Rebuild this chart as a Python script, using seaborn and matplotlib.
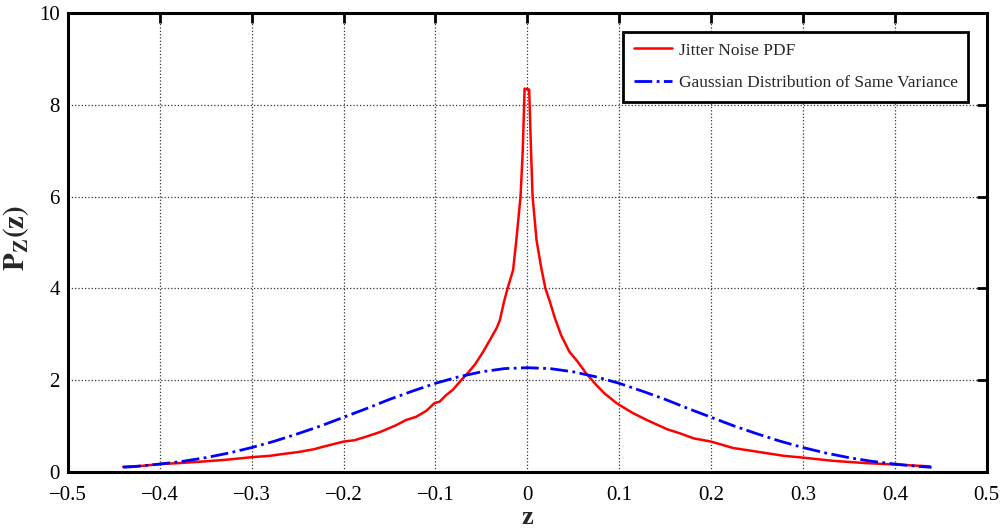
import matplotlib
matplotlib.use('Agg')
import matplotlib.pyplot as plt
import seaborn as sns
import numpy as np

# Jitter noise PDF
z_jitter = [-0.440, -0.420, -0.400, -0.380, -0.357, -0.330, -0.300, -0.280, -0.266,
            -0.250, -0.233, -0.220, -0.200, -0.188, -0.175, -0.160, -0.1425, -0.132,
            -0.121, -0.110, -0.101, -0.0955, -0.088, -0.081, -0.072, -0.0667, -0.057,
            -0.048, -0.040, -0.0335, -0.030, -0.0255, -0.0215, -0.0155, -0.012, -0.0074,
            -0.005, -0.003, 0.002, 0.004, 0.0057, 0.010, 0.0149, 0.0196, 0.0245, 0.030,
            0.0367, 0.0457, 0.0548, 0.0639, 0.0747, 0.084, 0.097, 0.100, 0.115, 0.130,
            0.152, 0.166, 0.181, 0.200, 0.224, 0.250, 0.279, 0.300, 0.333, 0.369, 0.400,
            0.438]
p_jitter = [0.11, 0.13, 0.17, 0.19, 0.22, 0.26, 0.32, 0.35, 0.39,
            0.43, 0.49, 0.56, 0.66, 0.69, 0.77, 0.87, 1.02, 1.13,
            1.20, 1.33, 1.50, 1.53, 1.68, 1.79, 2.00, 2.11, 2.34,
            2.62, 2.90, 3.13, 3.30, 3.70, 4.00, 4.40, 5.05, 6.00,
            7.00, 8.35, 8.33, 7.00, 6.00, 5.05, 4.47, 4.00, 3.71, 3.35,
            2.98, 2.62, 2.40, 2.15, 1.90, 1.71, 1.50, 1.46, 1.28, 1.13,
            0.93, 0.84, 0.73, 0.66, 0.52, 0.44, 0.35, 0.31, 0.24, 0.19, 0.16,
            0.12]

# Gaussian of same variance
z_gauss = [-0.440, -0.425, -0.400, -0.375, -0.350, -0.325, -0.300, -0.275, -0.250,
           -0.225, -0.200, -0.175, -0.150, -0.125, -0.100, -0.075, -0.050, -0.025,
           0.000, 0.025, 0.050, 0.075, 0.100, 0.125, 0.150, 0.175, 0.200, 0.225,
           0.250, 0.275, 0.300, 0.325, 0.350, 0.375, 0.400, 0.425, 0.440]
p_gauss = [0.10, 0.12, 0.17, 0.23, 0.31, 0.41, 0.53, 0.67, 0.83,
           1.00, 1.19, 1.38, 1.58, 1.76, 1.93, 2.07, 2.18, 2.25,
           2.27, 2.25, 2.18, 2.07, 1.93, 1.76, 1.58, 1.38, 1.19, 1.00,
           0.83, 0.67, 0.53, 0.41, 0.31, 0.23, 0.17, 0.12, 0.10]

x_ticks = [-0.5, -0.4, -0.3, -0.2, -0.1, 0, 0.1, 0.2, 0.3, 0.4, 0.5]
x_tick_labels = ['\u22120.5', '\u22120.4', '\u22120.3', '\u22120.2', '\u22120.1', '0',
                 '0.1', '0.2', '0.3', '0.4', '0.5']
y_ticks = [0, 2, 4, 6, 8, 10]

sns.set_theme(style='white')
plt.rcParams['font.family'] = ['Liberation Serif', 'DejaVu Serif']
plt.rcParams['mathtext.fontset'] = 'stix'

fig = plt.figure(figsize=(10, 5.29), dpi=100)
ax = fig.add_axes([0.068, 0.108, 0.9187, 0.8675])

sns.lineplot(x=z_jitter, y=p_jitter, ax=ax, color='#ff0000', lw=1.8,
             sort=False, estimator=None, label='Jitter Noise PDF')
sns.lineplot(x=z_gauss, y=p_gauss, ax=ax, color='#0000ff', lw=2.0, linestyle='-.',
             sort=False, estimator=None, label='Gaussian Distribution of Same Variance')

ax.set_xlim(-0.5, 0.5)
ax.set_ylim(0, 10)
ax.set_xticks(x_ticks)
ax.set_xticklabels(x_tick_labels)
ax.set_yticks(y_ticks)
ax.grid(True, linestyle=':', color='#333333', linewidth=0.9)

for s in ax.spines.values():
    s.set_linewidth(2.2)
    s.set_color('black')
ax.tick_params(direction='in', length=7, width=2, top=True, right=True,
               labelsize=15, colors='black')
ax.tick_params(axis='x', pad=10)
ax.tick_params(axis='y', pad=6)

ax.set_xlabel('z', fontsize=19, fontweight='bold')
ax.xaxis.set_label_coords(0.5, -0.074)
ax.set_ylabel(r'$\mathbf{P_Z(z)}$', fontsize=21)
ax.yaxis.set_label_coords(-0.04, 0.51)

leg = ax.legend(loc='upper right', bbox_to_anchor=(0.9895, 0.9775), fontsize=12.5,
                frameon=True, fancybox=False, edgecolor='black', framealpha=1,
                handlelength=2.2, handletextpad=0.4, borderpad=0.6, labelspacing=0.95)
leg.get_frame().set_linewidth(2)

fig.savefig('out.png', dpi=100)
